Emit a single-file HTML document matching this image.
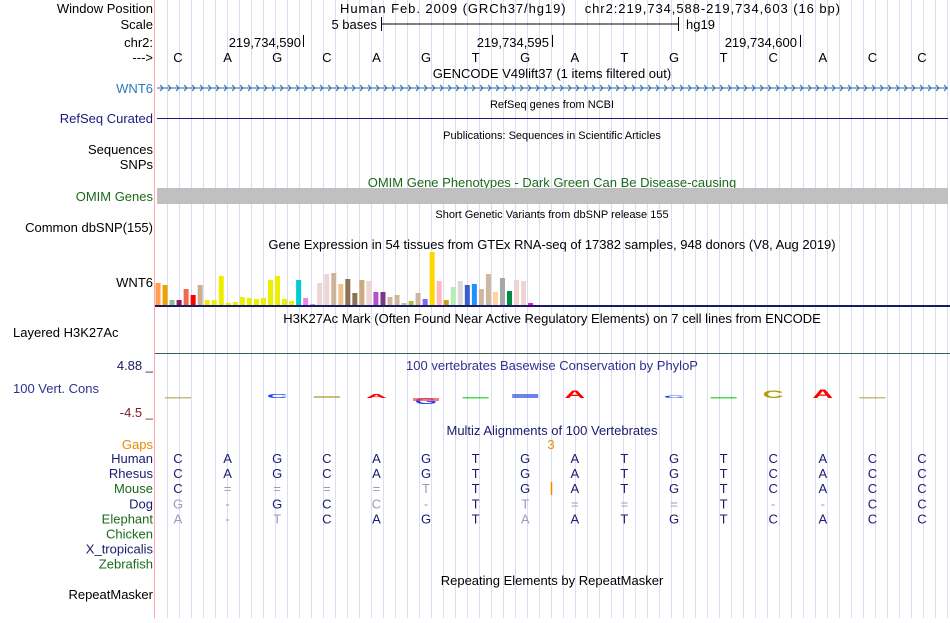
<!DOCTYPE html>
<html><head><meta charset="utf-8"><style>
body{margin:0;background:#fff;width:950px;height:618px;overflow:hidden;font-family:"Liberation Sans",sans-serif}
svg text{font-family:"Liberation Sans",sans-serif;white-space:pre}
</style></head><body>
<svg id="s" width="950" height="618" xmlns="http://www.w3.org/2000/svg">
<g id="grid"></g>
<line x1="154.5" y1="0" x2="154.5" y2="618" stroke="#ffaaaa"/>
<g font-size="13" text-anchor="end">
<text x="153" y="13">Window Position</text>
<text x="153" y="29">Scale</text>
<text x="153" y="47">chr2:</text>
<text x="153" y="62">---&gt;</text>
<text x="153" y="93" fill="#2a7ab8">WNT6</text>
<text x="153" y="123" fill="#1a1a80">RefSeq Curated</text>
<text x="153" y="154">Sequences</text>
<text x="153" y="169">SNPs</text>
<text x="153" y="201" fill="#1a6a1a">OMIM Genes</text>
<text x="153" y="232">Common dbSNP(155)</text>
<text x="153" y="287">WNT6</text>
<text x="153" y="370" fill="#1a1a60">4.88 _</text>
<text x="153" y="417" fill="#801a1a">-4.5 _</text>
<text x="153" y="449" fill="#ee8800">Gaps</text>
<text x="153" y="599">RepeatMasker</text>
</g>
<text x="13" y="337" font-size="13">Layered H3K27Ac</text>
<text x="13" y="393" font-size="13" fill="#303090">100 Vert. Cons</text>
<g font-size="13">
<text x="340" y="13" textLength="500" lengthAdjust="spacing">Human Feb. 2009 (GRCh37/hg19)    chr2:219,734,588-219,734,603 (16 bp)</text>
<text x="377" y="29" text-anchor="end">5 bases</text>
<text x="686" y="29">hg19</text>
<text x="552" y="78" text-anchor="middle">GENCODE V49lift37 (1 items filtered out)</text>
<text x="552" y="108" text-anchor="middle" font-size="11">RefSeq genes from NCBI</text>
<text x="552" y="139" text-anchor="middle" font-size="11">Publications: Sequences in Scientific Articles</text>
<text x="552" y="187" text-anchor="middle" fill="#1a6a1a">OMIM Gene Phenotypes - Dark Green Can Be Disease-causing</text>
<text x="552" y="218" text-anchor="middle" font-size="11">Short Genetic Variants from dbSNP release 155</text>
<text x="552" y="249" text-anchor="middle">Gene Expression in 54 tissues from GTEx RNA-seq of 17382 samples, 948 donors (V8, Aug 2019)</text>
<text x="552" y="323" text-anchor="middle">H3K27Ac Mark (Often Found Near Active Regulatory Elements) on 7 cell lines from ENCODE</text>
<text x="552" y="370" text-anchor="middle" fill="#303090">100 vertebrates Basewise Conservation by PhyloP</text>
<text x="552" y="435" text-anchor="middle" fill="#1a1a70">Multiz Alignments of 100 Vertebrates</text>
<text x="552" y="585" text-anchor="middle">Repeating Elements by RepeatMasker</text>
<text x="551" y="449" text-anchor="middle" fill="#ee8800">3</text>
</g>
<g stroke="#000">
<line x1="381" y1="24" x2="678" y2="24"/><line x1="381.5" y1="17" x2="381.5" y2="31"/><line x1="678.5" y1="17" x2="678.5" y2="31"/>
</g>
<g font-size="13" text-anchor="end">
<text x="301" y="47">219,734,590</text><line x1="303.5" y1="35" x2="303.5" y2="47" stroke="#000"/>
<text x="549" y="47">219,734,595</text><line x1="552.5" y1="35" x2="552.5" y2="47" stroke="#000"/>
<text x="797" y="47">219,734,600</text><line x1="800.5" y1="35" x2="800.5" y2="47" stroke="#000"/>
</g>
<g id="bases" font-size="13" text-anchor="middle"></g>
<line x1="157" y1="88" x2="948" y2="88" stroke="#2a6aa8"/>
<g id="arrows" stroke="#2a6aa8" fill="none"></g>
<line x1="157" y1="118.5" x2="948" y2="118.5" stroke="#1a1a80"/>
<rect x="157" y="188" width="791" height="16" fill="#c0c0c0"/>
<g id="gtex"></g>
<line x1="155" y1="306" x2="950" y2="306" stroke="#1a1a60" stroke-width="2"/>
<line x1="155" y1="353.5" x2="950" y2="353.5" stroke="#3a5a5a"/>
<g id="cons"></g>
<g id="align" font-size="13"></g>
<line x1="551.5" y1="482" x2="551.5" y2="495" stroke="#ee8800" stroke-width="1.5"/>
</svg>
<script>
const NS='http://www.w3.org/2000/svg';
function mk(t,a,p){const e=document.createElementNS(NS,t);for(const k in a)e.setAttribute(k,a[k]);p.appendChild(e);return e;}
const bases=['C','A','G','C','A','G','T','G','A','T','G','T','C','A','C','C'];
const bx=i=>178+49.6*i;
const g=document.getElementById('grid');
for(let x=167;x<950;x+=12){const l=mk('line',{x1:x+.5,y1:0,x2:x+.5,y2:618,stroke:'#dcdcf4'},g);

}
const bg=document.getElementById('bases');
bases.forEach((b,i)=>{const t=mk('text',{x:bx(i),y:62},bg);t.textContent=b;

});
const ar=document.getElementById('arrows');
for(let x=160;x<946;x+=8){const p=mk('path',{d:`M${x} 85 L${x+3} 88 L${x} 91`},ar);

}
const gtexValues=[22,20,5,5,16,10,20,5,5,29,2,3,8,7,6,7,25,29,6,4,25,7,1,22,31,32,21,26,12,25,24,13,13,8,10,2,4,12,6,53,24,5,18,24,20,21,16,31,13,27,14,25,24,2];
const gtexColors=['#ff9f4f','#f0a000','#8fbc8f','#8b1a5a','#ee6a50','#ff0000','#cdb08f','#eeee00','#eeee00','#eeee00','#eeee00','#eeee00','#eeee00','#eeee00','#eeee00','#eeee00','#eeee00','#eeee00','#eeee00','#eeee00','#00cdcd','#ee82ee','#aaaaaa','#eed5d2','#eed5d2','#cdb39b','#eec591','#8b7355','#8b7355','#cdaa7d','#eed5d2','#b452cd','#7a378b','#cdb79e','#cdb79e','#cdb79e','#9acd32','#cdb79e','#7b68ee','#ffd700','#ffb6c1','#cd9b1d','#b4eeb4','#d9d9d9','#3a5fcd','#1e90ff','#cdb79e','#cdb79e','#ffd39b','#a6a6a6','#008b45','#eed5d2','#eed5d2','#ff00ff'];
const gg=document.getElementById('gtex');
const yG=v=>305-v;
gtexValues.forEach((v,i)=>{const r=mk('rect',{x:155.5+7.03*i,y:yG(v),width:5,height:305-yG(v),fill:gtexColors[i]},gg);

});
const consIdx=[0,2,3,4,5,5,6,7,8,10,11,12,13,14];
const consLetter=['-','C','-','A','G','-','-','-','A','C','-','C','A','-'];
const consColor=['#b0a040','#2040ff','#b0a040','#ff0000','#2040ff','#ff4040','#00cc00','#3050e0','#ff0000','#2040ff','#00cc00','#b0a000','#ff0000','#b0a040'];
const consH=[1,4,2,4,-6,-3,1,4,8,3,1,8,9,1];
const cg=document.getElementById('cons');
consIdx.forEach((bi,k)=>{const h=consH[k],x=bx(bi);
let el;
if(consLetter[k]==='-'){el=mk('rect',{x:x-13,y:h>0?398-Math.max(h,1):398,width:26,height:Math.max(Math.abs(h),1.5),fill:consColor[k],opacity:.7},cg);}
else{const sy=Math.abs(h)/9;el=mk('text',{x:0,y:0,'font-size':12,'font-weight':'bold','text-anchor':'middle',fill:consColor[k],transform:`translate(${x},${h>0?398:398+Math.abs(h)}) scale(2.4,${sy})`},cg);el.textContent=consLetter[k];}

});
const species=['Human','Rhesus','Mouse','Dog','Elephant','Chicken','X_tropicalis','Zebrafish'];
const speciesColor=['#1a1a70','#1a1a70','#1a6a1a','#1a1a70','#1a6a1a','#1a6a1a','#1a1a70','#1a6a1a'];
const alnRows=['CAGCAGTGATGTCACC','CAGCAGTGATGTCACC','C====tTGATGTCACC','g-GCc-Tt===T--CC','a-tCAGTaATGTCACC','','',''];
const ag=document.getElementById('align');
species.forEach((sp,r)=>{const y=463+15.1*r;
const t=mk('text',{x:153,y:y,'text-anchor':'end',fill:speciesColor[r]},ag);t.textContent=sp;


[...alnRows[r]].forEach((c,i)=>{const faded=(c==='='||c==='-'||c!==c.toUpperCase());
const b=mk('text',{x:bx(i),y:y,'text-anchor':'middle',fill:faded?'#9a9abf':'#1a1a70'},ag);b.textContent=c.toUpperCase();

});});
</script>
</body></html>
